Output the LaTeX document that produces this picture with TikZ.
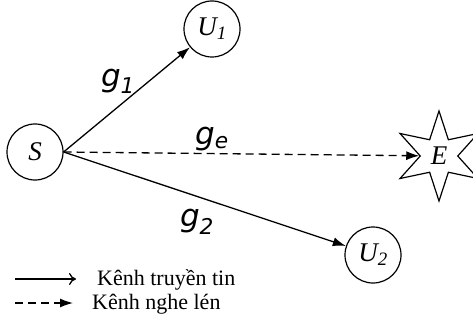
\documentclass[tikz,border=0pt]{standalone}
\usepackage{fontspec}
\setmainfont{Liberation Serif}
\newfontfamily\gainfont{DejaVu Sans}
\usetikzlibrary{arrows.meta, shapes.geometric}

\tikzset{
  user/.style={draw, circle, line width=1.2pt, minimum size=56pt, inner sep=0pt,
               font=\fontsize{27}{27}\selectfont\itshape},
  eve/.style={draw, star, star points=6, star point ratio=2.4, line width=1.2pt,
              minimum size=90pt, inner sep=0pt, fill=white,
              font=\fontsize{27}{27}\selectfont\itshape},
  link/.style={-{Latex[length=13pt,width=9pt]}, line width=1.3pt},
  tap/.style={link, dash pattern=on 8pt off 5pt},
  gain/.style={font=\gainfont\itshape\fontsize{31}{31}\selectfont},
  legend/.style={anchor=base west, inner sep=0pt, font=\fontsize{22}{22}\selectfont}
}

\begin{document}
\begin{tikzpicture}[x=1pt, y=-1pt]
  \useasboundingbox (0,0) rectangle (473,323);

  % Nodes
  \node[user] (S)  at (35,152)  {S};
  \node[user] (U1) at (212,29)  {U\textsubscript{1}};
  \node[user] (U2) at (373,255) {U\textsubscript{2}};
  \node[eve]  (E)  at (439,156) {E};

  % Channels
  \draw[link] (S.east) -- (U1);
  \draw[link] (S.east) -- (U2);
  \draw[tap]  (S.east) -- (E);

  % Gains
  \node[gain] (g1) at (118,81)  {g\textsubscript{1}};
  \node[gain] (ge) at (212,139) {g\textsubscript{e}};
  \node[gain] (g2) at (197,222) {g\textsubscript{2}};

  % Legend
  \coordinate (l1a) at (15,279);
  \coordinate (l1b) at (76,279);
  \coordinate (l2a) at (15,303);
  \coordinate (l2b) at (73,303);
  \draw[line width=1.3pt, -{To[length=7pt,width=12pt]}] (l1a) -- (l1b);
  \draw[line width=1.3pt, dash pattern=on 8pt off 5pt,
        -{Latex[length=13pt,width=9pt]}] (l2a) -- (l2b);
  \node[legend] (t1) at (97,285) {Kênh truyền tin};
  \node[legend] (t2) at (92,309) {Kênh nghe lén};
\end{tikzpicture}
\end{document}
